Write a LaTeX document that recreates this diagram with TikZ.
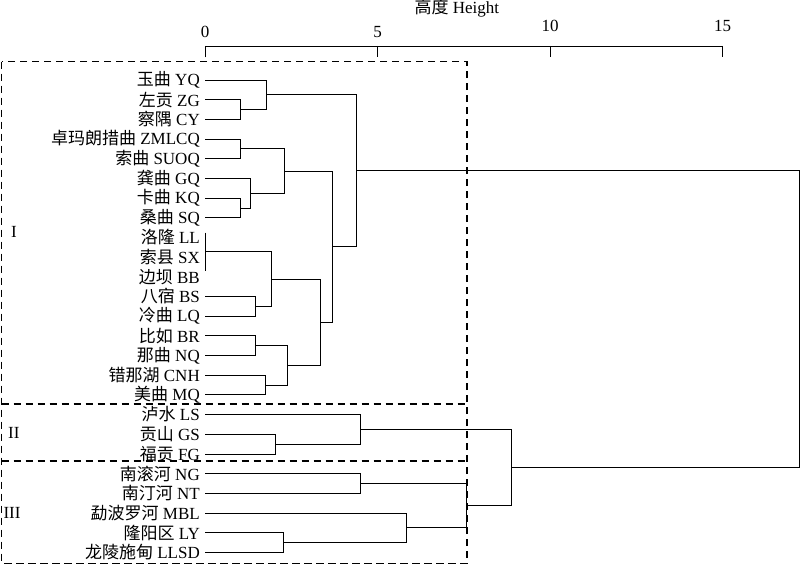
\documentclass[tikz,border=0pt]{standalone}
\usepackage{fontspec}
\setmainfont{Liberation Serif}
\newfontfamily\cjk{Noto Sans CJK SC}
\usepackage{tikz}
\usetikzlibrary{
    calc,
    positioning
}
\newcommand{\zh}[1]{{\cjk #1}}
% join two children at a given height
\newcommand{\mergeat}[4]{%
    \coordinate (#1m) at ($(#3)!0.5!(#4)$);
    \coordinate (#1) at ($(#1m -| o) + (#2,0)$);
    \draw[link] (#3) -- (#3 -| #1) -- (#4 -| #1) -- (#4);
}
\tikzset{
    leaf/.style={anchor=east, inner sep=5pt},
    link/.style={line width=0.8pt},
    groupbox/.style={dash pattern=on 7.5pt off 4.5pt, line width=1.6pt}
}

\begin{document}
\begin{tikzpicture}[x=34.5pt, y=-19.68pt, font=\fontsize{17}{20}\selectfont]
                        \useasboundingbox (-5.942, -4.065) rectangle (17.246, 24.645);
                        \coordinate (o) at (0, 0);
                        % axis
                        \draw[link] (0, -1.15) -- (0, -1.728) -- (15, -1.728) -- (15, -1.15);
                        \foreach \t/\ly in {0/-2.454, 5/-2.454, 10/-2.744, 15/-2.744} {
                            \draw[link] (\t, -1.728) -- (\t, -1.15);
                            \node (tick\t) at (\t, \ly) {\t};
                        }
                        \node (title) at (7.30, -3.64) {\zh{高度} Height};
                        % leaves
                        \foreach \lab [count=\i from 0] in {
                            \zh{玉曲} YQ, \zh{左贡} ZG, \zh{察隅} CY, \zh{卓玛朗措曲} ZMLCQ,
                            \zh{索曲} SUOQ, \zh{龚曲} GQ, \zh{卡曲} KQ, \zh{桑曲} SQ,
                            \zh{洛隆} LL, \zh{索县} SX, \zh{边坝} BB, \zh{八宿} BS,
                            \zh{冷曲} LQ, \zh{比如} BR, \zh{那曲} NQ, \zh{错那湖} CNH,
                            \zh{美曲} MQ, \zh{泸水} LS, \zh{贡山} GS, \zh{福贡} FG,
                            \zh{南滚河} NG, \zh{南汀河} NT, \zh{勐波罗河} MBL,
                            \zh{隆阳区} LY, \zh{龙陵施甸} LLSD} {
                            \node[leaf] (l\i) at (0, \i) {\lab};
                        }
                        % group I
                        \mergeat{a1}{1.035}{l1.east}{l2.east}
                        \mergeat{a2}{1.788}{l0.east}{a1}
                        \mergeat{b1}{1.035}{l3.east}{l4.east}
                        \mergeat{b2}{1.035}{l6.east}{l7.east}
                        \mergeat{b3}{1.325}{l5.east}{b2}
                        \mergeat{b4}{2.293}{b1}{b3}
                        \coordinate (c0) at (0, 8.72);
                        \coordinate (c0t) at (0, 7.75);
                        \coordinate (c0b) at (0, 9.7);
                        \draw[link] (c0t) -- (c0b);
                        \mergeat{c1}{1.449}{l11.east}{l12.east}
                        \mergeat{c2}{1.933}{c0}{c1}
                        \mergeat{d1}{1.449}{l13.east}{l14.east}
                        \mergeat{d2}{1.759}{l15.east}{l16.east}
                        \mergeat{d3}{2.380}{d1}{d2}
                        \mergeat{c3}{3.348}{c2}{d3}
                        \mergeat{b5}{3.684}{b4}{c3}
                        \mergeat{g1}{4.391}{a2}{b5}
                        % group II
                        \mergeat{e1}{2.038}{l18.east}{l19.east}
                        \mergeat{g2}{4.493}{l17.east}{e1}
                        % group III
                        \mergeat{f1}{4.493}{l20.east}{l21.east}
                        \mergeat{f2}{2.270}{l23.east}{l24.east}
                        \mergeat{f3}{5.826}{l22.east}{f2}
                        \mergeat{f4}{7.585}{f1}{f3}
                        \mergeat{g3}{8.890}{g2}{f4}
                        \mergeat{root}{17.22}{g1}{g3}
                        % groups
                        \draw[groupbox] (-5.893, -0.93) rectangle (7.586, 24.56);
                        \draw[groupbox] (-5.893, 16.45) -- (7.586, 16.45);
                        \draw[groupbox] (-5.893, 19.37) -- (7.586, 19.37);
                        \node (gI) at (-5.536, 7.71) {I};
                        \node (gII) at (-5.540, 17.94) {II};
                        \node (gIII) at (-5.594, 22.0) {III};
                    \end{tikzpicture}
\end{document}
